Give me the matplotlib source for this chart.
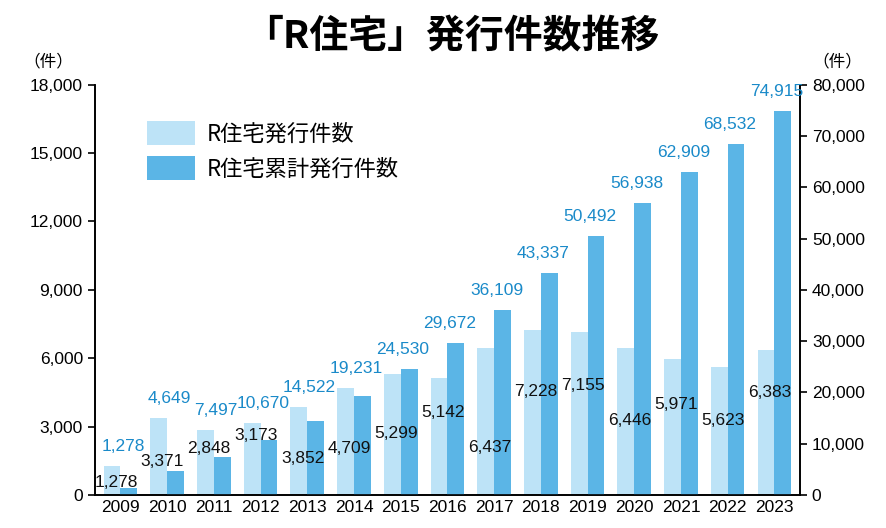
import matplotlib
matplotlib.use("Agg")
import matplotlib.pyplot as plt
import numpy as np

plt.rcParams["font.family"] = "Noto Sans CJK JP"
numfont = "Liberation Sans"

years = ["2009","2010","2011","2012","2013","2014","2015","2016","2017","2018","2019","2020","2021","2022","2023"]
annual = [1278,3371,2848,3173,3852,4709,5299,5142,6437,7228,7155,6446,5971,5623,6383]
cumulative = [1278,4649,7497,10670,14522,19231,24530,29672,36109,43337,50492,56938,62909,68532,74915]

# label placement of annual values (layout, left-axis units)
annual_label_y = [530,1450,2020,2630,1580,2020,2680,3640,2100,4520,4790,3290,3950,3290,4480]

light = "#bde3f7"
dark = "#5bb5e6"
blue_txt = "#1a8ac9"

fig = plt.figure(figsize=(8.86, 5.28), dpi=100)
ax = fig.add_axes([0.107, 0.0625, 0.796, 0.777])
ax2 = ax.twinx()
x = np.arange(len(years))
w = 0.36
ax.bar(x - w/2, annual, w, color=light, label="R住宅発行件数", zorder=2)
ax2.bar(x + w/2, cumulative, w, color=dark, label="R住宅累計発行件数", zorder=2)

ax.set_xlim(-0.55, len(years) - 0.45)
ax.set_ylim(0, 18000)
ax2.set_ylim(0, 80000)
ax.set_yticks(np.arange(0, 18001, 3000))
ax.set_yticklabels([f"{v:,}" for v in np.arange(0, 18001, 3000)])
ax2.set_yticks(np.arange(0, 80001, 10000))
ax2.set_yticklabels([f"{v:,}" for v in np.arange(0, 80001, 10000)])
ax.set_xticks(x)
ax.set_xticklabels(years)
for a in (ax, ax2):
    a.tick_params(labelsize=12.5, length=5, width=1.2, direction="out")
    for lab in a.get_xticklabels() + a.get_yticklabels():
        lab.set_fontfamily(numfont)
    a.spines["top"].set_visible(False)
    for s in ["left", "right", "bottom"]:
        a.spines[s].set_linewidth(1.2)
ax.tick_params(axis="x", length=0)

k = 80000 / 18000
for i, v in enumerate(annual):
    ax2.text(x[i] - 0.1, annual_label_y[i] * k, f"{v:,}", ha="center", va="center",
             fontsize=12.5, color="#111111", zorder=6, fontfamily=numfont)
for i, v in enumerate(cumulative):
    top = max(annual[i] * k, v)
    ax2.text(x[i] + 0.05, top + 3800, f"{v:,}", ha="center", va="center",
             fontsize=12.5, color=blue_txt, zorder=6, clip_on=False, fontfamily=numfont)

h1, l1 = ax.get_legend_handles_labels()
h2, l2 = ax2.get_legend_handles_labels()
ax2.legend(h1 + h2, l1 + l2, loc="upper left", bbox_to_anchor=(0.045, 0.96), frameon=False,
           fontsize=16, handlelength=2.2, handleheight=1.3, labelspacing=0.45, handletextpad=0.5)

fig.text(0.055, 0.875, "（件）", fontsize=12, ha="center")
fig.text(0.945, 0.875, "（件）", fontsize=12, ha="center")
fig.text(0.51, 0.93, "「R住宅」発行件数推移", fontsize=28, fontweight="bold", ha="center", va="center")

fig.savefig("out.png", dpi=100)
